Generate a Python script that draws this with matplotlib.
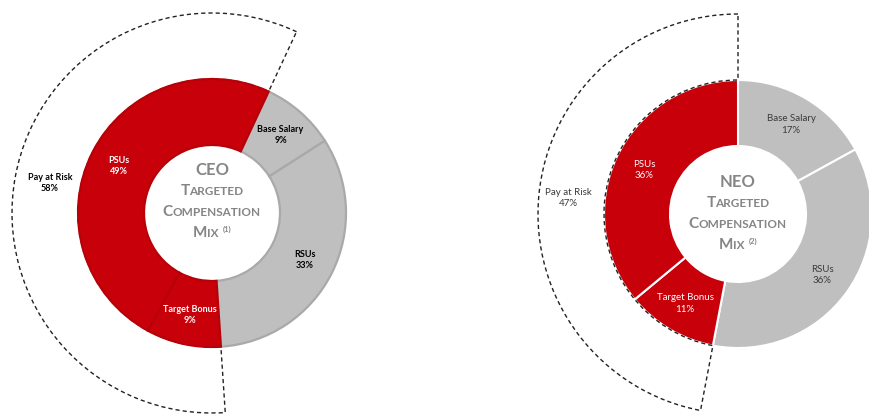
"""Targeted compensation mix donuts (CEO / NEO)."""
import matplotlib
matplotlib.use('Agg')
import numpy as np
import matplotlib.pyplot as plt
from matplotlib.offsetbox import TextArea, HPacker, AnnotationBbox

plt.rcParams['font.family'] = ['Lato', 'DejaVu Sans']

# data
segments = ['Base Salary', 'RSUs', 'Target Bonus', 'PSUs']
ceo_values = [9, 33, 9, 49]
neo_values = [17, 36, 11, 36]
ceo_risk = 58
neo_risk = 47
risk_label = 'Pay at Risk'
titles = ['CEO', 'NEO']
notes = ['(1)', '(2)']

RED = '#c8000a'
GRAY = '#bfbfbf'
TXT = '#858585'

fig = plt.figure(figsize=(8.7, 4.19), dpi=100)
ax = fig.add_axes([0, 0, 1, 1])

R, W, R_RISK = 134, 66, 200

charts = [
    dict(values=ceo_values, risk=ceo_risk, title=titles[0], note=notes[0],
         center=(212, 206), start=65, text_top=249, ring_top=False,
         edges=['#a9a9a9', '#a9a9a9', '#b80008', '#b80008'], elw=1.6,
         bold=True, dark='black', risk_r=165),
    dict(values=neo_values, risk=neo_risk, title=titles[1], note=notes[1],
         center=(738, 205), start=90, text_top=237, ring_top=True,
         edges=['white'] * 4, elw=1.5, bold=False, dark='#3a3a3a', risk_r=170),
]


def caps_line(word, big, small, sup=None):
    props = dict(color=TXT, fontweight='bold')
    parts = [TextArea(word[0], textprops=dict(fontsize=big, **props)),
             TextArea(word[1:].upper(), textprops=dict(fontsize=small, **props))]
    box = HPacker(children=parts, align='baseline', pad=0, sep=0)
    if sup:
        box = HPacker(children=[box, TextArea(sup, textprops=dict(fontsize=5.5, **props))],
                      align='top', pad=0, sep=3)
    return box


for c in charts:
    cx, cy = c['center']
    vals = c['values']
    wedges, _ = ax.pie(vals, colors=[GRAY, GRAY, RED, RED], radius=R,
                       center=(cx, cy), startangle=c['start'], counterclock=False,
                       wedgeprops=dict(width=W, linewidth=c['elw']))
    for w, ec in zip(wedges, c['edges']):
        w.set_edgecolor(ec)

    # dashed "pay at risk" ring around the red segments
    gray_share = vals[0] + vals[1]
    ring, _ = ax.pie([c['risk'], 100 - c['risk']], radius=R_RISK, center=(cx, cy),
                     startangle=c['start'] - 3.6 * gray_share, counterclock=False,
                     wedgeprops=dict(width=R_RISK - R, fill=False, edgecolor='#222222',
                                     linewidth=1.0, linestyle=(0, (3, 2.2))))
    ring[1].set_visible(False)
    ring[0].set_zorder(3 if c['ring_top'] else 0.5)

    # segment labels
    for w, name, v in zip(wedges, segments, vals):
        mid = np.deg2rad((w.theta1 + w.theta2) / 2)
        on_red = w.get_facecolor()[0] > 0.6 and w.get_facecolor()[1] < 0.3
        ax.text(cx + 104 * np.cos(mid), cy + 104 * np.sin(mid), f'{name}\n{v}%',
                ha='center', va='center', fontsize=6.5 if c['bold'] else 7,
                fontweight='bold' if c['bold'] else 'normal', linespacing=1.3,
                color='white' if on_red else c['dark'], zorder=5)

    mid = np.deg2rad((ring[0].theta1 + ring[0].theta2) / 2)
    rr = c['risk_r']
    ax.text(cx + rr * np.cos(mid), cy + rr * np.sin(mid), f"{risk_label}\n{c['risk']}%",
            ha='center', va='center', fontsize=6.5 if c['bold'] else 7,
            fontweight='bold' if c['bold'] else 'normal', linespacing=1.3,
            color=c['dark'], zorder=5)

    # centre title
    lines = [TextArea(c['title'], textprops=dict(fontsize=12, color=TXT, fontweight='bold')),
             caps_line('Targeted', 11, 8.5),
             caps_line('Compensation', 11, 8.5),
             caps_line('Mix', 11, 8.5, sup=c['note'])]
    for i, box in enumerate(lines):
        ab = AnnotationBbox(box, (cx, c['text_top'] - 21 * i), frameon=False,
                            box_alignment=(0.5, 0.5), pad=0, zorder=6)
        ax.add_artist(ab)

ax.set_xlim(0, 870)
ax.set_ylim(0, 419)
ax.set_aspect('equal')
ax.axis('off')

plt.savefig('out.png', dpi=100)
